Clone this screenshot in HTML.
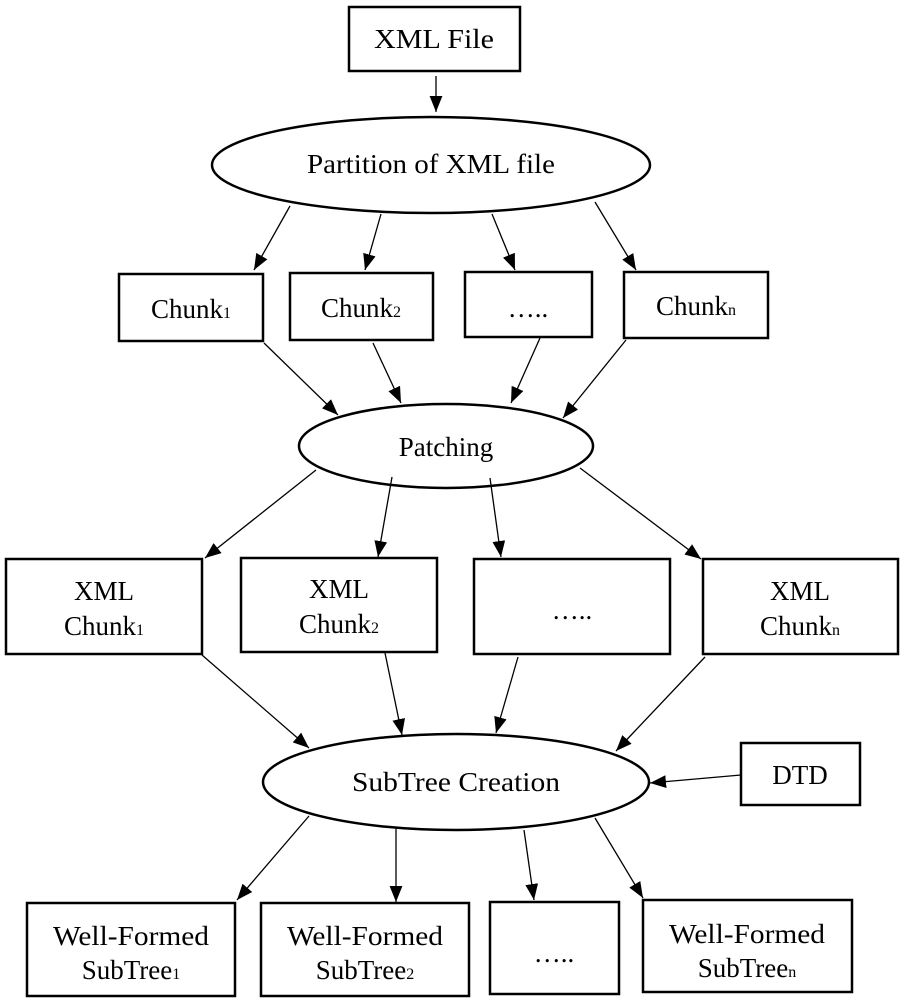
<!DOCTYPE html>
<html><head><meta charset="utf-8"><style>html,body{margin:0;padding:0;background:#fff}</style></head><body>
<svg width="900" height="1002" viewBox="0 0 900 1002" xmlns="http://www.w3.org/2000/svg" font-family="Liberation Serif, serif" font-size="27" text-anchor="middle">
<defs><marker id="a" markerWidth="16" markerHeight="14" refX="15" refY="6" orient="auto" markerUnits="userSpaceOnUse" viewBox="0 0 15 12"><path d="M0,0 L15,6 L0,12 z" fill="#000"/></marker></defs>
<g fill="none" stroke="#000" stroke-width="2.5">
<rect x="349" y="7" width="171" height="64"/>
<ellipse cx="431" cy="165" rx="219" ry="48"/>
<rect x="119" y="274" width="144" height="67"/>
<rect x="290" y="273" width="143" height="67"/>
<rect x="465" y="272" width="127" height="65"/>
<rect x="624" y="272" width="144" height="66"/>
<ellipse cx="446" cy="446" rx="147" ry="42"/>
<rect x="6" y="559" width="196" height="95"/>
<rect x="241" y="558" width="196" height="94"/>
<rect x="474" y="559" width="196" height="95"/>
<rect x="703" y="559" width="195" height="95"/>
<ellipse cx="456" cy="782" rx="193" ry="48"/>
<rect x="741" y="743" width="119" height="62"/>
<rect x="27" y="903" width="208" height="93"/>
<rect x="261" y="903" width="208" height="93"/>
<rect x="490" y="902" width="129" height="92"/>
<rect x="643" y="900" width="209" height="92"/>
</g>
<g stroke="#000" stroke-width="1.3" marker-end="url(#a)">
<line x1="436" y1="76" x2="436" y2="112"/>
<line x1="290" y1="206" x2="254" y2="270"/>
<line x1="381" y1="214" x2="365" y2="270"/>
<line x1="492" y1="214" x2="515" y2="270"/>
<line x1="595" y1="202" x2="636" y2="270"/>
<line x1="264" y1="343" x2="338" y2="415"/>
<line x1="373" y1="343" x2="401" y2="403"/>
<line x1="540" y1="338" x2="511" y2="403"/>
<line x1="626" y1="340" x2="563" y2="418"/>
<line x1="316" y1="470" x2="205" y2="558"/>
<line x1="392" y1="477" x2="378" y2="557"/>
<line x1="490" y1="478" x2="501" y2="557"/>
<line x1="580" y1="468" x2="701" y2="559"/>
<line x1="202" y1="655" x2="309" y2="748"/>
<line x1="385" y1="653" x2="402" y2="735"/>
<line x1="518" y1="657" x2="496" y2="733"/>
<line x1="705" y1="657" x2="616" y2="751"/>
<line x1="741" y1="775" x2="650" y2="783"/>
<line x1="309" y1="816" x2="237" y2="900"/>
<line x1="396" y1="828" x2="396" y2="902"/>
<line x1="524" y1="830" x2="534" y2="900"/>
<line x1="595" y1="818" x2="643" y2="898"/>
</g>
<g fill="#000">
<text x="434" y="48" textLength="120" lengthAdjust="spacingAndGlyphs">XML File</text>
<text x="431" y="173" textLength="248" lengthAdjust="spacingAndGlyphs">Partition of XML file</text>
<text x="191" y="318">Chunk<tspan font-size="16">1</tspan></text>
<text x="361" y="317">Chunk<tspan font-size="16">2</tspan></text>
<text x="528" y="317">…..</text>
<text x="696" y="315">Chunk<tspan font-size="16">n</tspan></text>
<text x="446" y="456">Patching</text>
<text x="104" y="600">XML</text>
<text x="104" y="635">Chunk<tspan font-size="16">1</tspan></text>
<text x="339" y="598">XML</text>
<text x="339" y="633">Chunk<tspan font-size="16">2</tspan></text>
<text x="572" y="619">…..</text>
<text x="800" y="600">XML</text>
<text x="800" y="635">Chunk<tspan font-size="16">n</tspan></text>
<text x="456" y="791" textLength="208" lengthAdjust="spacingAndGlyphs">SubTree Creation</text>
<text x="800" y="784">DTD</text>
<text x="131" y="945" textLength="156" lengthAdjust="spacingAndGlyphs">Well-Formed</text>
<text x="131" y="979">SubTree<tspan font-size="16">1</tspan></text>
<text x="365" y="945" textLength="156" lengthAdjust="spacingAndGlyphs">Well-Formed</text>
<text x="365" y="979">SubTree<tspan font-size="16">2</tspan></text>
<text x="554" y="962">…..</text>
<text x="747" y="943" textLength="156" lengthAdjust="spacingAndGlyphs">Well-Formed</text>
<text x="747" y="977">SubTree<tspan font-size="16">n</tspan></text>
</g>
</svg>
</body></html>
